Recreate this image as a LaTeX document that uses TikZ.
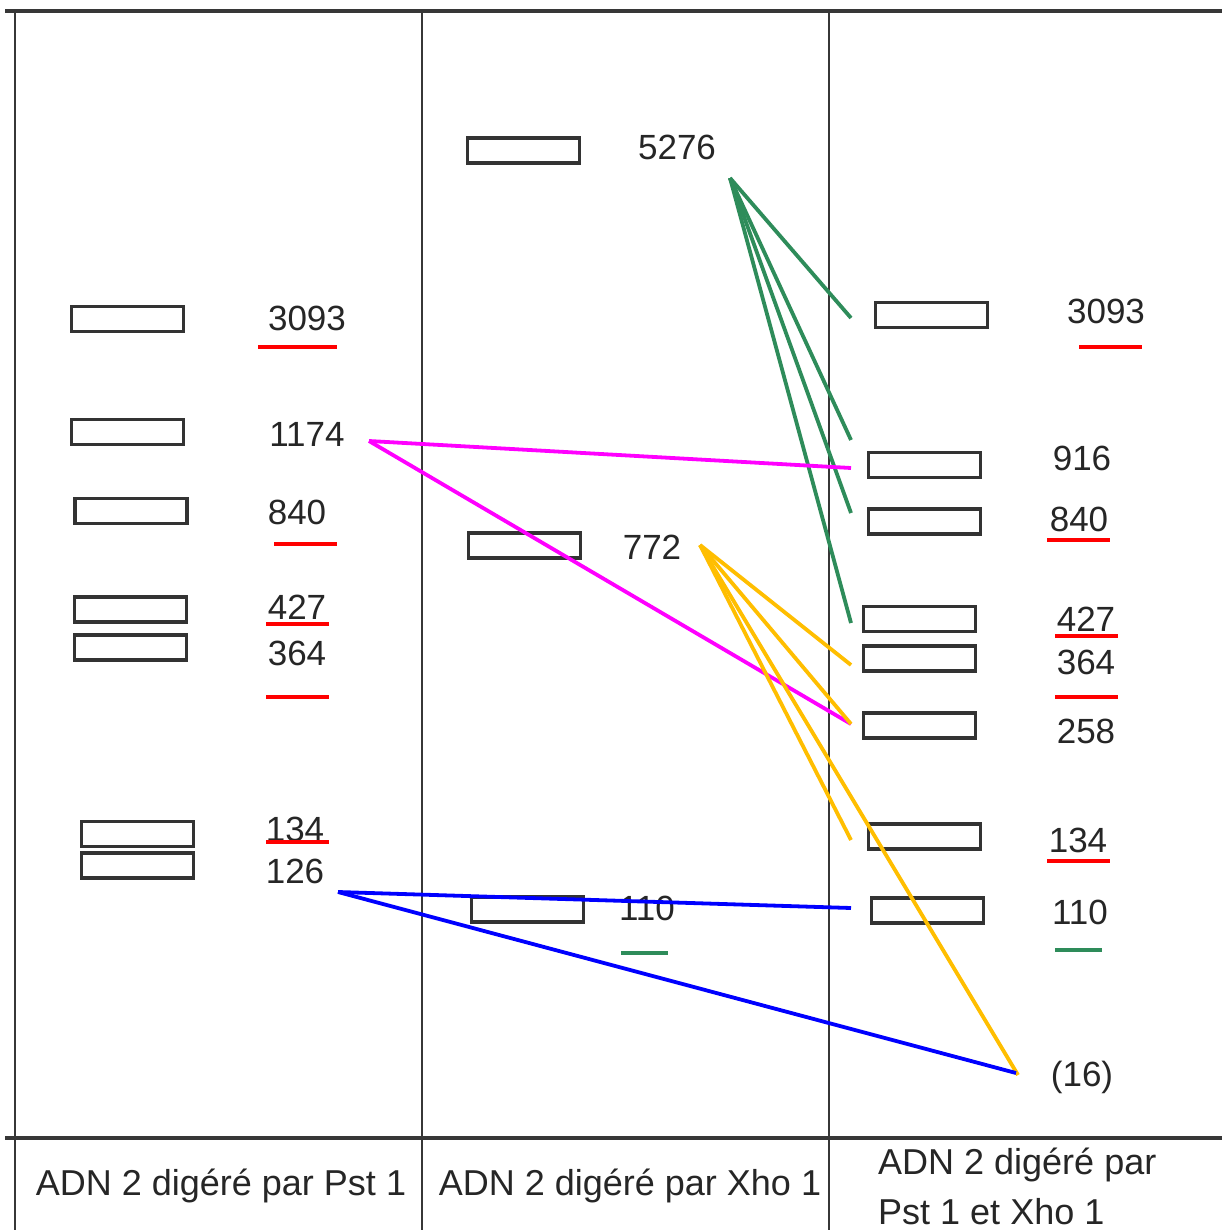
\documentclass[tikz,border=0pt]{standalone}
\usepackage{fontspec}
\setmainfont{Liberation Sans}
\definecolor{gline}{RGB}{46,140,90}
\definecolor{oline}{RGB}{255,190,0}
\definecolor{mline}{RGB}{255,0,255}
\definecolor{bline}{RGB}{0,0,255}
\definecolor{frame}{RGB}{55,55,55}
\begin{document}
\begin{tikzpicture}[x=1pt,y=-1pt,
  band/.style={draw=black!80, line width=3.2pt, minimum width=112pt, minimum height=25pt, inner sep=0pt},
  lbl/.style={font=\fontsize{35}{40}\selectfont, text=black!85, inner sep=0pt},
  captext/.style={font=\fontsize{36}{40}\selectfont, text=black!85, inner sep=0pt},
  redul/.style={draw=red, line width=4.5pt},
  greenul/.style={draw=gline, line width=4pt},
  tline/.style={draw=frame, line width=2.8pt},
  hline/.style={draw=frame, line width=4pt},
  conn/.style={line width=3.8pt}]
\useasboundingbox (0,0) rectangle (1222,1230);
\fill[white] (0,0) rectangle (1222,1230);
% table frame
\draw[hline] (5,11) -- (1222,11);
\draw[hline] (5,1138) -- (1222,1138);
\draw[tline] (15,11) -- (15,1230);
\draw[tline] (422,11) -- (422,1230);
\draw[tline] (829,11) -- (829,1230);
% column 1 bands
\node[band] (a3093) at (127.5,319) {};
\node[band] (a1174) at (127.5,432) {};
\node[band] (a840) at (131,511) {};
\node[band] (a427) at (130.5,609.5) {};
\node[band] (a364) at (130.5,647.5) {};
\node[band] (a134) at (137.5,834) {};
\node[band] (a126) at (137.5,865.5) {};
% column 2 bands
\node[band] (b5276) at (523.5,150.5) {};
\node[band] (b772) at (524.5,545.5) {};
\node[band] (b110) at (527.5,909.5) {};
% column 3 bands
\node[band] (c3093) at (931.5,315) {};
\node[band] (c916) at (924.5,465) {};
\node[band] (c840) at (924.5,521.5) {};
\node[band] (c427) at (919.5,619) {};
\node[band] (c364) at (919.5,658.5) {};
\node[band] (c258) at (919.5,725.5) {};
\node[band] (c134) at (924.5,836.5) {};
\node[band] (c110) at (927.5,910.5) {};
% column 1 labels
\node[lbl] (la3093) at (307,318) {3093};
\node[lbl] (la1174) at (307,434) {1174};
\node[lbl] (la840) at (297,512) {840};
\node[lbl] (la427) at (297,607) {427};
\node[lbl] (la364) at (297,653) {364};
\node[lbl] (la134) at (295,829) {134};
\node[lbl] (la126) at (295,871) {126};
% column 2 labels
\node[lbl] (lb5276) at (677,147) {5276};
\node[lbl] (lb772) at (652,547) {772};
\node[lbl] (lb110) at (647,908) {110};
% column 3 labels
\node[lbl] (lc3093) at (1106,311) {3093};
\node[lbl] (lc916) at (1082,458) {916};
\node[lbl] (lc840) at (1079,519) {840};
\node[lbl] (lc427) at (1086,619) {427};
\node[lbl] (lc364) at (1086,662) {364};
\node[lbl] (lc258) at (1086,731) {258};
\node[lbl] (lc134) at (1078,840) {134};
\node[lbl] (lc110) at (1080,912) {110};
\node[lbl] (lc16) at (1082,1077) {(16)};
% underlines
\draw[redul] (258,347) -- (337,347);
\draw[redul] (274,544) -- (337,544);
\draw[redul] (266,624) -- (329,624);
\draw[redul] (266,697) -- (329,697);
\draw[redul] (266,842) -- (329,842);
\draw[greenul] (621,953) -- (668,953);
\draw[redul] (1079,347) -- (1142,347);
\draw[redul] (1047,540) -- (1110,540);
\draw[redul] (1055,636) -- (1118,636);
\draw[redul] (1055,697) -- (1118,697);
\draw[redul] (1047,861) -- (1110,861);
\draw[greenul] (1055,950) -- (1102,950);
% bottom captions
\node[captext] (cap1) at (221,1186) {ADN 2 digéré par Pst 1};
\node[captext] (cap2) at (630,1186) {ADN 2 digéré par Xho 1};
\node[captext, anchor=west] (cap3a) at (878,1165) {ADN 2 digéré par};
\node[captext, anchor=west] (cap3b) at (878,1212) {Pst 1 et Xho 1};
% connector end points
\coordinate (g0) at (730,178);
\coordinate (g1) at (851,318);
\coordinate (g2) at (851,440);
\coordinate (g3) at (851,513);
\coordinate (g4) at (851,623);
\coordinate (m0) at (369,441);
\coordinate (m1) at (851,468);
\coordinate (m2) at (851,724);
\coordinate (o0) at (700,545);
\coordinate (o1) at (851,665);
\coordinate (o2) at (851,724);
\coordinate (o3) at (851,840);
\coordinate (o4) at (1018,1075);
\coordinate (u0) at (338,892);
\coordinate (u1) at (851,908);
\coordinate (u2) at (1016,1073);
% connectors
\foreach \t in {g1,g2,g3,g4} \draw[conn, gline] (g0) -- (\t);
\foreach \t in {m1,m2} \draw[conn, mline] (m0) -- (\t);
\foreach \t in {o1,o2,o3,o4} \draw[conn, oline] (o0) -- (\t);
\foreach \t in {u1,u2} \draw[conn, bline] (u0) -- (\t);
\end{tikzpicture}
\end{document}
